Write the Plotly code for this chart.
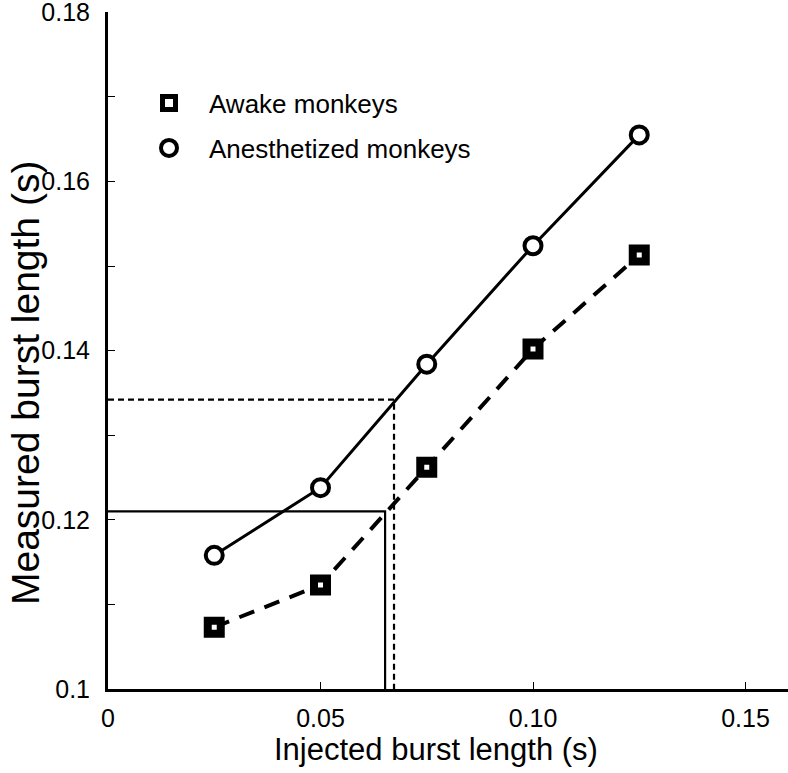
import plotly.graph_objects as go

# Data
injected = [0.025, 0.05, 0.075, 0.10, 0.125]
awake = [0.1073, 0.1123, 0.1262, 0.1402, 0.1513]
anesthetized = [0.1158, 0.1238, 0.1384, 0.1524, 0.1655]

# Reference crossing levels
awake_level = 0.121
awake_cross = 0.0652
anest_level = 0.1342
anest_cross = 0.0673

x_tickvals = [0, 0.05, 0.10, 0.15]
x_ticktext = ["0", "0.05", "0.10", "0.15"]
y_tickvals = [0.10, 0.12, 0.14, 0.16, 0.18]
y_ticktext = ["0.1", "0.12", "0.14", "0.16", "0.18"]

FONT = "Arial, Liberation Sans, sans-serif"

fig = go.Figure()

y_min = 0.1
x_min = 0.0

sq_marker = dict(symbol="square", size=13, color="white", line=dict(color="black", width=8))
ci_marker = dict(symbol="circle", size=17, color="white", line=dict(color="black", width=4))

# reference L-lines
fig.add_trace(go.Scatter(
    x=[x_min, awake_cross, awake_cross], y=[awake_level, awake_level, y_min],
    mode="lines", line=dict(color="black", width=2.2), showlegend=False, hoverinfo="skip"))
fig.add_trace(go.Scatter(
    x=[x_min, anest_cross, anest_cross], y=[anest_level, anest_level, y_min],
    mode="lines", line=dict(color="black", width=2.2, dash="6px,4px"), showlegend=False, hoverinfo="skip"))

fig.add_trace(go.Scatter(
    x=injected, y=awake, name="Awake monkeys", mode="lines+markers",
    line=dict(color="black", width=4, dash="16px,11px"),
    marker=sq_marker, showlegend=False))
fig.add_trace(go.Scatter(
    x=injected, y=anesthetized, name="Anesthetized monkeys", mode="lines+markers",
    line=dict(color="black", width=3),
    marker=ci_marker, showlegend=False))

# legend-only entries (markers only, as in the reference)
fig.add_trace(go.Scatter(x=[None], y=[None], name="Awake monkeys", mode="markers",
                         marker=sq_marker, legend="legend"))
fig.add_trace(go.Scatter(x=[None], y=[None], name="Anesthetized monkeys", mode="markers",
                         marker=ci_marker, legend="legend2"))

W, H = 788, 773
L, R, T, B = 108, 0, 12, 84
pw, ph = W - L - R, H - T - B

def px_x(px):
    return (px - L) / pw

def px_y(py):
    return (H - B - py) / ph

legend_common = dict(font=dict(family=FONT, size=26, color="black"), bgcolor="rgba(0,0,0,0)",
                     borderwidth=0, xanchor="left", yanchor="middle", itemwidth=70)

fig.update_layout(
    width=W, height=H,
    margin=dict(l=L, r=R, t=T, b=B, autoexpand=False),
    plot_bgcolor="white", paper_bgcolor="white",
    font=dict(family=FONT, color="black"),
    legend=dict(x=px_x(129), y=px_y(103), **legend_common),
    legend2=dict(x=px_x(129), y=px_y(148), **legend_common),
    xaxis=dict(range=[0, 0.16], showgrid=False, zeroline=False, showline=True, automargin=False,
               linecolor="black", linewidth=3, ticks="inside", ticklen=7, tickwidth=1,
               tickcolor="black", tickvals=x_tickvals, ticktext=x_ticktext,
               ticklabeloverflow="allow",
               tickfont=dict(size=25, family=FONT, color="black"), ticklabelstandoff=5),
    yaxis=dict(range=[0.1, 0.18003], showgrid=False, zeroline=False, showline=True, automargin=False,
               linecolor="black", linewidth=3, ticks="inside", ticklen=7, tickwidth=1,
               tickcolor="black", tickvals=y_tickvals, ticktext=y_ticktext,
               ticklabeloverflow="allow",
               tickfont=dict(size=25, family=FONT, color="black"), ticklabelstandoff=10,
               minor=dict(dtick=0.01, tick0=0.1, ticks="inside", ticklen=7, tickwidth=1,
                          tickcolor="black")),
    annotations=[
        dict(text="Injected burst length (s)", xref="paper", yref="paper",
             x=px_x(436), y=px_y(749), xanchor="center", yanchor="middle",
             showarrow=False, font=dict(size=31, family=FONT, color="black")),
        dict(text="Measured burst length (s)", xref="paper", yref="paper",
             x=px_x(25), y=px_y(383), xanchor="center", yanchor="middle", textangle=-90,
             showarrow=False, font=dict(size=39, family=FONT, color="black")),
    ],
)

fig.write_html("out.html", config={"displayModeBar": False},
               post_script="document.body.style.margin='0';document.body.style.padding='0';")
